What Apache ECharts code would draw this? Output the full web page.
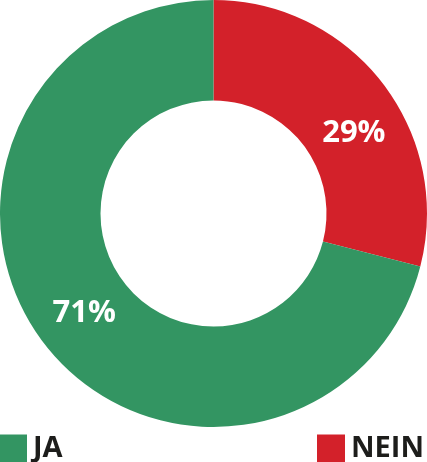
<!DOCTYPE html>
<html><head><meta charset="utf-8">
<script src="https://cdn.jsdelivr.net/npm/echarts@6/dist/echarts.min.js"></script>
<style>html,body{margin:0;padding:0;background:#fff}#c{width:427px;height:462px}</style>
</head><body><div id="c"></div>
<script>
const categories = ['NEIN', 'JA'];
const values = [29, 71];
const colors = ['#D3212A', '#339562'];

const chart = echarts.init(document.getElementById('c'), null, {renderer: 'canvas'});
const font = '"Open Sans", sans-serif';
const legendText = {color: '#1d1d1b', fontSize: 29, fontWeight: 'bold', fontFamily: font, padding: [0,0,0,1]};
chart.setOption({
  animation: false,
  legend: [
    {data: ['JA'], left: -1, top: 434, itemWidth: 28, itemHeight: 28, textStyle: legendText, icon: 'rect', selectedMode: false, padding: 0},
    {data: ['NEIN'], left: 317, top: 434, itemWidth: 28, itemHeight: 28, textStyle: legendText, icon: 'rect', selectedMode: false, padding: 0}
  ],
  series: [{
    type: 'pie',
    center: [213.5, 213.5],
    radius: [113, 213.5],
    startAngle: 90,
    clockwise: true,
    avoidLabelOverlap: false,
    label: {
      show: true, position: 'inside', formatter: '{c}%',
      color: '#fff', fontSize: 31, fontWeight: 'bold', fontFamily: font
    },
    labelLayout: function (p) { return p.dataIndex === 0 ? {dx: 9, dy: 22} : {dx: 2, dy: -2}; },
    labelLine: {show: false},
    emphasis: {disabled: true},
    itemStyle: {borderWidth: 0},
    data: categories.map((n, i) => ({name: n, value: values[i], itemStyle: {color: colors[i]}}))
  }]
});
</script></body></html>
